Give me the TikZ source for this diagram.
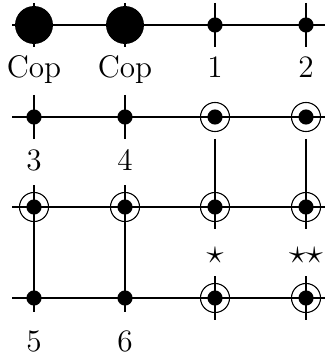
\documentclass[tikz,border=0pt]{standalone}
\usetikzlibrary{calc}
\begin{document}
\begin{tikzpicture}[x=0.4167pt, y=-0.4167pt, line width=0.55pt,
  font=\fontsize{13}{15}\selectfont,
  big/.style={circle, fill=black, inner sep=0pt, minimum size=15.8pt},
  dot/.style={circle, fill=black, inner sep=0pt, minimum size=6.3pt},
  ring/.style={circle, draw=black, line width=0.45pt, inner sep=0pt, minimum size=12.1pt},
  lab/.style={anchor=base, inner sep=0pt},
  stars/.style={inner sep=0pt, font=\fontsize{14.5}{17}\selectfont}]
\useasboundingbox (0,0) rectangle (325,358);
% coordinates of grid points
\foreach \c/\x in {1/34,2/125,3/215,4/306}{
  \foreach \r/\y in {1/25,2/117,3/207,4/298}{
    \coordinate (p\r\c) at (\x,\y);
  }
}
% horizontal lines
\foreach \r in {1,2,3,4}{
  \draw ($(p\r1)+(-22,0)$) -- (p\r4) -- ++(22,0);
}
% vertical ticks
\foreach \c in {1,2,3,4}{
  \draw ($(p1\c)+(0,-22)$) -- ($(p1\c)+(0,22)$);
}
\foreach \c in {1,2}{
  \draw ($(p2\c)+(0,-22)$) -- ($(p2\c)+(0,22)$);
  \draw ($(p3\c)+(0,-22)$) -- (p4\c) -- ++(0,14);
}
\foreach \c in {3,4}{
  \draw ($(p2\c)+(0,22)$) -- (p3\c) -- ++(0,22);
  \draw ($(p4\c)+(0,-22)$) -- ($(p4\c)+(0,22)$);
}
% nodes
\node[big] (n11) at (p11) {};
\node[big] (n12) at (p12) {};
\node[dot] (n13) at (p13) {};
\node[dot] (n14) at (p14) {};
\node[dot] (n21) at (p21) {};
\node[dot] (n22) at (p22) {};
\foreach \r/\c in {2/3,2/4,3/1,3/2,3/3,3/4,4/3,4/4}{
  \node[dot] (n\r\c) at (p\r\c) {};
  \node[ring] (o\r\c) at (p\r\c) {};
}
\node[dot] (n41) at (p41) {};
\node[dot] (n42) at (p42) {};
% labels
\node[lab] (l1) at (34,78) {Cop};
\node[lab] (l2) at (125,78) {Cop};
\node[lab] (l3) at (215,78) {1};
\node[lab] (l4) at (306,78) {2};
\node[lab] (l5) at (34,170) {3};
\node[lab] (l6) at (125,170) {4};
\node[stars] (s1) at (215,255) {$\star$};
\node[stars] (s2) at (306,255) {$\star\star$};
\node[lab] (l7) at (34,351) {5};
\node[lab] (l8) at (125,351) {6};
\end{tikzpicture}
\end{document}
